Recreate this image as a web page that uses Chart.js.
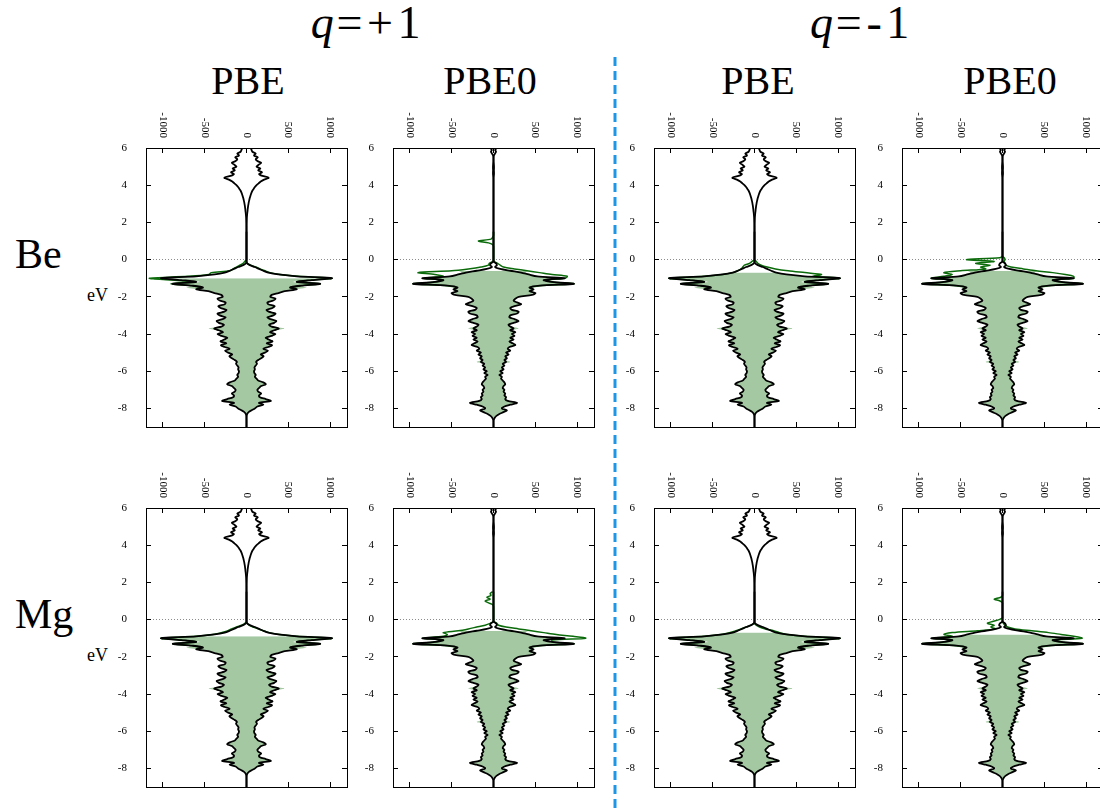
<!DOCTYPE html>
<html>
<head>
<meta charset="utf-8">
<script src="https://cdn.jsdelivr.net/npm/chart.js@4.4.1/dist/chart.umd.min.js"></script>
<style>
  body { margin: 0; width: 1100px; height: 808px; overflow: hidden; background: #fff; position: relative; }
  canvas { position: absolute; }
  .lbl { position: absolute; font-family: 'Liberation Serif', 'Times New Roman', serif; color: #000; white-space: nowrap; }
  .title { font-size: 46px; line-height: 46px; top: 0; width: 200px; text-align: center; letter-spacing: 0.1em; }
  .title i { letter-spacing: 0.06em; }
  .head { font-size: 40px; line-height: 40px; top: 61px; width: 160px; text-align: center; }
  .row { font-size: 42px; line-height: 42px; left: 15px; }
  .ev { font-size: 18px; line-height: 18px; left: 70px; width: 38px; text-align: right; }
</style>
</head>
<body>
<div class="lbl title" style="left:268px"><i>q</i>=+1</div>
<div class="lbl title" style="left:762px"><i>q</i>=-1</div>
<div class="lbl head" style="left:168px">PBE</div>
<div class="lbl head" style="left:410px">PBE0</div>
<div class="lbl head" style="left:678px">PBE</div>
<div class="lbl head" style="left:930px">PBE0</div>
<div class="lbl row" style="top:233px">Be</div>
<div class="lbl row" style="top:593px">Mg</div>
<div class="lbl ev" style="top:286px">eV</div>
<div class="lbl ev" style="top:646px">eV</div>
<svg style="position:absolute;left:612px;top:57px" width="6" height="752">
  <line x1="3" y1="0" x2="3" y2="752" stroke="#1e96e6" stroke-width="3" stroke-dasharray="9 5"/>
</svg>
<script>
// energy grid (eV), shared by every panel
const energies = [
  -9,-8.9,-8.8,-8.7,-8.6,-8.5,-8.4,-8.3,-8.2,-8.1,
  -8,-7.9,-7.8,-7.7,-7.6,-7.5,-7.4,-7.3,-7.2,-7.1,
  -7,-6.9,-6.8,-6.7,-6.6,-6.5,-6.4,-6.3,-6.2,-6.1,
  -6,-5.9,-5.8,-5.7,-5.6,-5.5,-5.4,-5.3,-5.2,-5.1,
  -5,-4.9,-4.8,-4.7,-4.6,-4.5,-4.4,-4.3,-4.2,-4.1,
  -4,-3.9,-3.8,-3.7,-3.6,-3.5,-3.4,-3.3,-3.2,-3.1,
  -3,-2.9,-2.8,-2.7,-2.6,-2.5,-2.4,-2.3,-2.2,-2.1,
  -2,-1.9,-1.8,-1.7,-1.6,-1.5,-1.4,-1.3,-1.2,-1.1,
  -1,-0.9,-0.8,-0.7,-0.6,-0.5,-0.4,-0.3,-0.2,-0.1,
  0,0.1,0.2,0.3,0.4,0.5,0.6,0.7,0.8,0.9,
  1,1.1,1.2,1.3,1.4,1.5,1.6,1.7,1.8,1.9,
  2,2.1,2.2,2.3,2.4,2.5,2.6,2.7,2.8,2.9,
  3,3.1,3.2,3.3,3.4,3.5,3.6,3.7,3.8,3.9,
  4,4.1,4.2,4.3,4.4,4.5,4.6,4.7,4.8,4.9,
  5,5.1,5.2,5.3,5.4,5.5,5.6,5.7,5.8,5.9,
  6
];

// total DOS (black), same host curve in every panel of one functional
const dosPBE = [
  0,0,0,0,0,0,2,8,25,60,
  100,130,200,150,290,230,160,150,175,140,
  130,150,175,230,200,140,120,100,110,95,
  90,100,95,110,125,115,140,175,205,170,
  220,255,200,260,305,240,310,265,230,300,
  345,280,330,385,300,270,330,355,285,250,
  320,345,265,240,310,335,260,250,320,345,
  285,300,380,455,600,520,650,880,600,780,
  1020,600,380,260,200,150,100,40,8,0,
  0,0,0,0,0,0,0,0,0,0,
  0,0,0,0,0,0,0,0,0,0,
  2,3,4,5,7,9,12,14,17,20,
  24,28,33,38,45,52,60,70,85,100,
  120,145,170,210,265,190,150,185,140,165,
  120,145,175,130,110,135,90,110,70,60,
  50
];
const dosPBE0 = [
  0,0,0,0,5,15,35,70,120,160,
  100,130,200,280,170,140,150,130,140,120,
  130,110,120,140,130,110,90,100,70,110,
  80,120,100,130,110,150,130,160,140,180,
  150,200,170,190,260,230,190,240,200,250,
  220,260,200,240,200,180,240,300,250,190,
  200,280,300,220,200,250,330,280,240,260,
  300,460,500,430,480,430,550,960,700,600,
  850,520,420,330,200,80,20,40,30,0,
  0,0,0,0,0,0,0,0,0,0,
  0,0,0,0,0,0,0,0,0,0,
  0,0,0,0,0,0,0,0,0,0,
  0,0,0,0,0,0,0,0,0,0,
  0,0,0,0,0,4,6,6,5,6,
  6,5,3,0,0,0,5,18,30,20,
  40
];

// occupied DOS (light green area)
const fillPBE = [
  0,0,0,0,0,0,0,5,20,55,
  110,130,170,160,250,220,165,150,165,140,
  130,145,165,210,190,140,120,100,110,95,
  90,100,95,110,120,115,140,165,190,170,
  210,240,205,250,285,245,295,265,235,290,
  330,290,360,450,300,275,320,340,285,255,
  310,330,270,245,300,320,265,255,310,330,
  285,300,360,430,560,720,600,820,560,720,
  1000,560,360,250,190,140,90,0,0,0,
  0,0,0,0,0,0,0,0,0,0,
  0,0,0,0,0,0,0,0,0,0,
  0,0,0,0,0,0,0,0,0,0,
  0,0,0,0,0,0,0,0,0,0,
  0,0,0,0,0,0,0,0,0,0,
  0,0,0,0,0,0,0,0,0,0,
  0
];
const fillPBE0 = [
  0,0,0,0,5,15,35,70,115,150,
  110,130,190,250,170,145,150,135,140,125,
  130,115,120,135,130,110,95,100,80,105,
  85,115,100,125,115,200,135,155,145,175,
  160,190,175,190,250,230,200,235,205,240,
  225,260,230,300,220,190,230,290,255,200,
  205,270,290,225,210,250,310,280,245,260,
  290,430,470,470,460,430,520,880,680,600,
  820,560,460,380,420,100,0,0,0,0,
  0,0,0,0,0,0,0,0,0,0,
  0,0,0,0,0,0,0,0,0,0,
  0,0,0,0,0,0,0,0,0,0,
  0,0,0,0,0,0,0,0,0,0,
  0,0,0,0,0,0,0,0,0,0,
  0,0,0,0,0,0,0,0,0,0,
  0
];
// highest occupied energy of the green area in each panel
const fillTop = [-1.0, -0.6, -0.7, -0.6, -0.9, -0.6, -0.7, -0.8];

// defect-cell DOS (dark green) around the gap, right (up) and left (down)
const gapE = [-1.5,-1.4,-1.3,-1.2,-1.1,-1,-0.9,-0.8,-0.7,-0.6,-0.5,-0.4,-0.3,-0.2,-0.1,
  0,0.1,0.2,0.3,0.4,0.5,0.6,0.7,0.8,0.9,1,1.1,1.2,1.3,1.4,1.5];
const g1R = [520,650,880,600,780,1020,620,400,280,220,160,110,50,10,0, 0,0,0,0,0,0,0,0,0,0,0,0,0,0,0,0];
const g1L = [540,650,900,620,900,1160,700,450,420,200,160,120,80,40,20, 0,0,0,0,0,0,0,0,0,0,0,0,0,0,0,0];
const g2R = [430,550,960,700,620,850,880,700,550,400,250,120,80,50,10, 0,0,0,0,0,0,0,0,0,0,0,0,0,0,0,0];
const g2L = [430,550,960,700,600,850,600,700,900,500,300,150,60,50,10, 0,0,0,0,0,0,0,0,10,60,180,30,10,0,0,0];
const g3R = [520,650,880,600,780,1020,700,800,600,400,250,150,80,40,20, 0,0,0,0,0,0,0,0,0,0,0,0,0,0,0,0];
const g3L = [520,650,880,600,780,1020,600,380,260,200,160,140,120,60,30, 0,0,0,0,0,0,0,0,0,0,0,0,0,0,0,0];
const g4R = [430,550,960,700,600,850,850,750,600,400,250,100,40,30,20, 30,20,0,0,0,0,0,0,0,0,0,0,0,0,0,0];
const g4L = [430,550,960,700,600,850,700,600,700,500,200,260,150,320,100, 430,30,0,0,0,0,0,0,0,0,0,0,0,0,0,0];
const g5R = [520,650,880,600,780,1020,600,390,270,200,140,80,30,10,0, 0,0,0,0,0,0,0,0,0,0,0,0,0,0,0,0];
const g5L = [520,650,880,600,780,1020,600,400,300,220,180,120,60,20,0, 0,0,0,0,0,0,0,0,0,0,0,0,0,0,0,0];
const g6R = [430,550,960,700,700,1100,950,750,600,450,300,150,60,40,0, 0,0,0,0,0,0,0,0,0,0,0,0,0,0,0,0];
const g6L = [430,550,960,700,600,850,600,550,600,420,300,200,100,40,0, 0,0,0,0,0,0,0,0,10,60,100,40,80,30,40,10];
const g7R = [520,650,880,600,780,1020,600,390,300,230,130,60,20,0,0, 0,0,0,0,0,0,0,0,0,0,0,0,0,0,0,0];
const g7L = [520,650,880,600,780,1020,600,400,300,220,160,100,40,10,0, 0,0,0,0,0,0,0,0,0,0,0,0,0,0,0,0];
const g8R = [430,550,960,700,600,950,850,700,550,350,150,60,30,10,0, 0,0,0,0,0,0,0,0,0,0,0,0,0,0,0,0];
const g8L = [430,550,960,700,600,850,600,700,600,300,80,140,100,180,120, 40,0,0,0,0,0,0,0,0,0,30,100,20,0,0,0];

const eTicks = [-8, -6, -4, -2, 0, 2, 4, 6];
const dosTicks = [-1000, -500, 0, 500, 1000];

// panel order: Be row (PBE, PBE0 for q=+1, then q=-1), then Mg row
const panelDos = [dosPBE, dosPBE0, dosPBE, dosPBE0, dosPBE, dosPBE0, dosPBE, dosPBE0];
const panelFill = [fillPBE, fillPBE0, fillPBE, fillPBE0, fillPBE, fillPBE0, fillPBE, fillPBE0];
const greenR = [g1R, g2R, g3R, g4R, g5R, g6R, g7R, g8R];
const greenL = [g1L, g2L, g3L, g4L, g5L, g6L, g7L, g8L];

// layout
const panelLeft = [146, 393, 654, 902];
const panelTop = [148, 508];
const PW = 201, PH = 279, PADL = 40, PADT = 50, PADR = 8, PADB = 8;

Chart.defaults.font.family = "'Liberation Serif', 'Times New Roman', serif";
Chart.defaults.font.size = 11;
Chart.defaults.color = '#000';

// gnuplot style tick labels on the top axis, rotated to read downward
const topLabels = {
    id: 'topLabels',
    afterDraw(chart) {
        const sc = chart.scales.x;
        const ctx = chart.ctx;
        ctx.save();
        ctx.font = "11px 'Liberation Serif', serif";
        ctx.fillStyle = '#000';
        ctx.textAlign = 'right';
        ctx.textBaseline = 'middle';
        sc.ticks.forEach(t => {
            ctx.save();
            ctx.translate(sc.getPixelForValue(t.value), chart.chartArea.top - 10);
            ctx.rotate(Math.PI / 2);
            ctx.fillText(String(t.value), 0, 0);
            ctx.restore();
        });
        ctx.restore();
    }
};

function curve(vals, sign) {
    return energies.map((e, i) => ({x: sign * vals[i], y: e}));
}
function gapCurve(vals, sign) {
    return gapE.map((e, i) => ({x: sign * vals[i], y: e}));
}
function fillCurve(vals, sign, top) {
    return energies.map((e, i) => ({x: sign * vals[i], y: e})).filter(p => p.y <= top + 1e-6);
}

const sideAxis = (position, size) => ({
    type: 'linear',
    position: position,
    ticks: {display: false},
    grid: {drawOnChartArea: false, tickLength: -5, color: '#000'},
    border: {color: '#000', width: 1},
    afterFit: s => { if (s.isHorizontal()) s.height = size; else s.width = size; }
});

for (let i = 0; i < 8; i++) {
    const cv = document.createElement('canvas');
    cv.width = PW + PADL + PADR;
    cv.height = PH + PADT + PADB;
    cv.style.left = (panelLeft[i % 4] - PADL) + 'px';
    cv.style.top = (panelTop[Math.floor(i / 4)] - PADT) + 'px';
    document.body.appendChild(cv);

    const green = '#0b6b0b';
    const area = 'rgb(164,201,162)';
    const x2 = sideAxis('bottom', PADB);
    x2.min = -1200; x2.max = 1200;
    x2.afterBuildTicks = s => { s.ticks = dosTicks.map(v => ({value: v})); };
    const y2 = sideAxis('right', PADR);
    y2.min = -9; y2.max = 6;
    y2.afterBuildTicks = s => { s.ticks = eTicks.map(v => ({value: v})); };

    new Chart(cv, {
        type: 'line',
        data: {
            datasets: [
                {data: curve(panelDos[i], 1), borderColor: '#000', borderWidth: 1.8, order: 0},
                {data: curve(panelDos[i], -1), borderColor: '#000', borderWidth: 1.8, order: 0},
                {data: gapCurve(greenR[i], 1), borderColor: green, borderWidth: 1.5, order: 1},
                {data: gapCurve(greenL[i], -1), borderColor: green, borderWidth: 1.5, order: 1},
                // occupied area: right branch filled across to the left branch
                {data: fillCurve(panelFill[i], 1, fillTop[i]), fill: '+1', backgroundColor: area,
                 borderColor: 'rgba(0,0,0,0)', borderWidth: 0, order: 2},
                {data: fillCurve(panelFill[i], -1, fillTop[i]), fill: false,
                 borderColor: 'rgba(0,0,0,0)', borderWidth: 0, order: 3}
            ]
        },
        options: {
            indexAxis: 'y',
            responsive: false,
            animation: false,
            devicePixelRatio: 1,
            layout: {padding: 0, autoPadding: false},
            elements: {point: {radius: 0}, line: {tension: 0.3}},
            plugins: {legend: {display: false}, tooltip: {enabled: false}},
            scales: {
                x: {
                    type: 'linear',
                    position: 'top',
                    min: -1200,
                    max: 1200,
                    afterBuildTicks: s => { s.ticks = dosTicks.map(v => ({value: v})); },
                    ticks: {display: false},
                    grid: {drawOnChartArea: false, tickLength: -5, color: '#000'},
                    border: {color: '#000', width: 1},
                    afterFit: s => { s.height = PADT; s.paddingLeft = 0; s.paddingRight = 0; }
                },
                x2: x2,
                y: {
                    type: 'linear',
                    position: 'left',
                    min: -9,
                    max: 6,
                    afterBuildTicks: s => { s.ticks = eTicks.map(v => ({value: v})); },
                    ticks: {padding: 24, callback: v => String(v)},
                    grid: {
                        drawOnChartArea: true,
                        tickLength: -5,
                        tickColor: '#000',
                        color: c => (c.tick && c.tick.value === 0) ? '#8c8c8c' : 'rgba(0,0,0,0)'
                    },
                    border: {color: '#000', width: 1, dash: [1, 2]},
                    afterFit: s => { s.width = PADL; s.paddingTop = 0; s.paddingBottom = 0; }
                },
                y2: y2
            }
        },
        plugins: [topLabels]
    });
}
</script>
</body>
</html>
